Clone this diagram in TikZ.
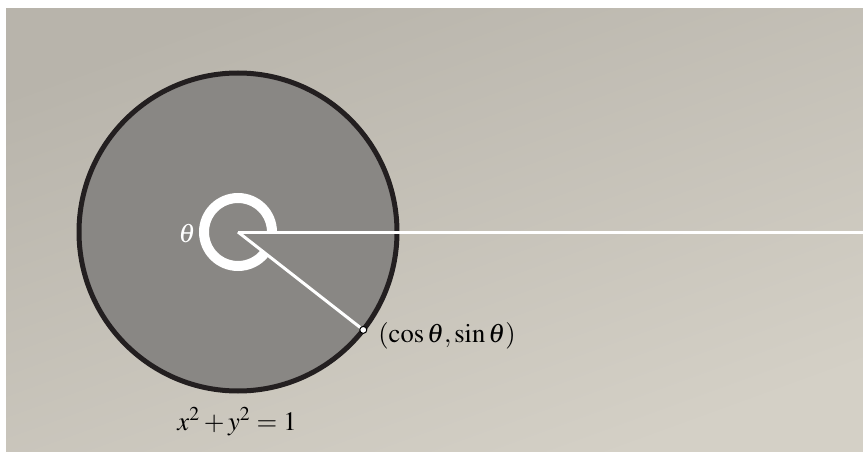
\documentclass[tikz,border=0pt]{standalone}
\usepackage{amsmath,amssymb}
\usepackage{mathptmx}
\usepackage{xcolor}
\usepackage{tikz}
\usetikzlibrary{positioning, calc}

\definecolor{bgtop}{RGB}{184,180,171}
\definecolor{bgbot}{RGB}{212,208,198}
\definecolor{diskgray}{RGB}{137,135,132}
\definecolor{rimblack}{RGB}{35,31,32}

\begin{document}
\begin{tikzpicture}[x=0.5pt, y=0.5pt, every node/.style={font=\fontsize{13.3}{16}\selectfont}]
  % Styles
  \tikzset{
    rim/.style={draw=rimblack, line width=2.5pt, fill=diskgray},
    ray/.style={draw=white, line width=1.5pt},
    anglering/.style={draw=white, line width=5pt},
    pointdot/.style={circle, fill=white, draw=black, line width=0.5pt, inner sep=0pt, minimum size=3.5pt},
    lbl/.style={inner sep=0pt, anchor=base}
  }

  % Canvas
  \useasboundingbox (0,0) rectangle (863,451);
  \shade[top color=bgtop, bottom color=bgbot, shading angle=20] (6,0) rectangle (863,442);

  % Disk
  \coordinate (o) at (238,219);
  \draw[rim] (o) circle (159);

  % Rays and angle
  \node (p) [pointdot] at ($(o)+(-38:159)$) {};
  \coordinate (far) at (863,219);
  \draw[ray] (o) -- (far);
  \draw[ray] (o) -- (p);
  \draw[anglering] ($(o)+(0:34)$) arc (0:322:34);

  % Labels
  \node (theta) [lbl, text=white] at (187,209) {$\theta$};
  \node (coords) [lbl, anchor=base west] at (378,109) {$(\cos\theta,\sin\theta)$};
  \node (eqn) [lbl] at (237,21) {$x^2+y^2=1$};
\end{tikzpicture}
\end{document}
